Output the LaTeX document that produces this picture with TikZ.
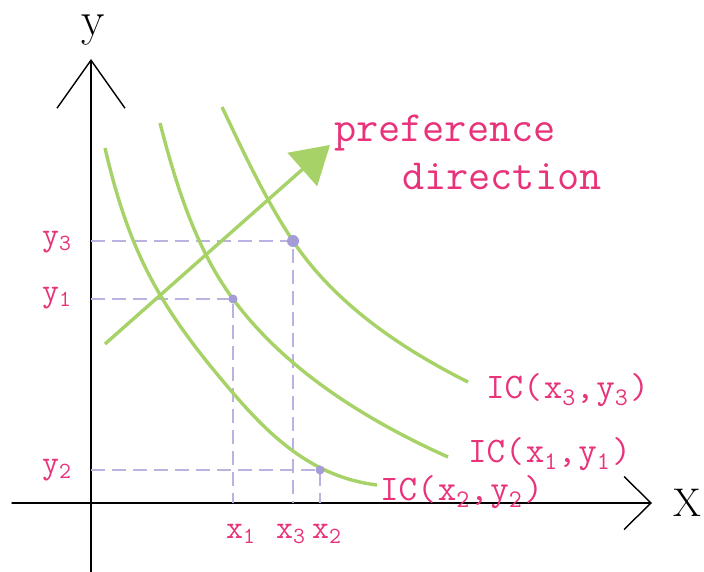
\documentclass[tikz,border=0pt]{standalone}
\usepackage{tikz}
\usetikzlibrary{arrows.meta}
\definecolor{icgreen}{RGB}{166,210,104}
\definecolor{labelpink}{RGB}{232,50,122}
\definecolor{guidelav}{RGB}{186,178,224}
\definecolor{dotlav}{RGB}{164,156,214}

\begin{document}
\begin{tikzpicture}[x=1pt, y=-1pt,
          axis/.style={line width=1.4pt, line cap=round, line join=round},
          icurve/.style={icgreen, line width=3.4pt},
          guide/.style={guidelav, line width=1.9pt, dash pattern=on 14pt off 7pt},
          lbl/.style={text=labelpink, inner sep=0pt, anchor=base west,
                      font=\ttfamily\fontsize{33}{36}\selectfont},
          iclbl/.style={lbl, font=\ttfamily\fontsize{36}{40}\selectfont},
          dot/.style={circle, fill=dotlav, inner sep=0pt, minimum size=9pt}]
        \useasboundingbox (0,0) rectangle (704,572);
        % axes
        \coordinate (o) at (91,503);
        \coordinate (ybot) at (91,572);
        \coordinate (ytip) at (91,59);
        \coordinate (xleft) at (12,503);
        \coordinate (xtip) at (652,503);
        \draw[axis, -{Straight Barb[length=48pt, width=68pt]}] (ybot) -- (ytip);
        \draw[axis, -{Straight Barb[length=27pt, width=53pt]}] (xleft) -- (xtip);
        \node[inner sep=0pt, font=\fontsize{48}{48}\selectfont] (ylab) at (93,30) {y};
        \node[inner sep=0pt, font=\fontsize{40}{40}\selectfont] (xlab) at (687,503) {X};
        % chosen bundles
        \coordinate (p3) at (293,241);
        \coordinate (p1) at (233,299);
        \coordinate (p2) at (320,470);
        \draw[guide] (o |- p3) -- (p3) -- (p3 |- o);
        \draw[guide] (o |- p1) -- (p1) -- (p1 |- o);
        \draw[guide] (o |- p2) -- (p2) -- (p2 |- o);
        % indifference curves
        \draw[icurve] (105,148) .. controls (129.8,255) and (161.3,309.6) .. (233,393)
                                .. controls (270.2,436.2) and (312.6,477.2) .. (377,485);
        \draw[icurve] (160,123) .. controls (175.8,184) and (195.5,248.3) .. (p1)
                                .. controls (286,370.6) and (366.8,420.5) .. (448,457);
        \draw[icurve] (222,107) .. controls (243.5,152.2) and (265.3,199.4) .. (p3)
                                .. controls (334.6,303.4) and (401,348.5) .. (468,382);
        \draw[icurve, -{Triangle[length=37pt, width=44pt]}] (105,344) -- (330,145);
        \node[dot, minimum size=12pt] (d3) at (p3) {};
        \node[dot] (d1) at (p1) {};
        \node[dot] (d2) at (p2) {};
        % labels
        \node[lbl] (ly3) at (42,245) {y\textsubscript{3}};
        \node[lbl] (ly1) at (42,301) {y\textsubscript{1}};
        \node[lbl] (ly2) at (42,473) {y\textsubscript{2}};
        \node[lbl] (lx1) at (226,538) {x\textsubscript{1}};
        \node[lbl] (lx3) at (276,538) {x\textsubscript{3}};
        \node[lbl] (lx2) at (312,538) {x\textsubscript{2}};
        \node[iclbl] (ic3) at (486,398) {IC(\kern2pt x\textsubscript{3},\kern2pt y\textsubscript{3}\kern2pt)};
        \node[iclbl] (ic1) at (468,462) {IC(\kern2pt x\textsubscript{1},\kern2pt y\textsubscript{1}\kern2pt)};
        \node[iclbl] (ic2) at (380,500) {IC(\kern2pt x\textsubscript{2},\kern2pt y\textsubscript{2}\kern2pt)};
        \node[lbl, font=\ttfamily\fontsize{43}{46}\selectfont] (pref) at (334,142) {preference};
        \node[lbl, font=\ttfamily\fontsize{43}{46}\selectfont] (dir) at (402,190) {direction};
      \end{tikzpicture}
\end{document}
